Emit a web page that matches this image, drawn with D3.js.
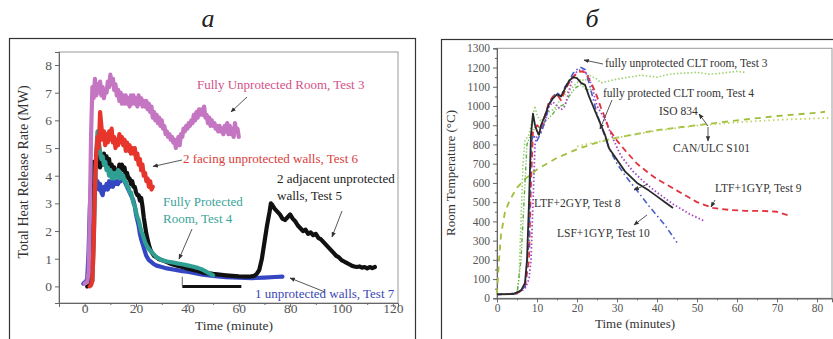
<!DOCTYPE html>
<html><head><meta charset="utf-8">
<script src="https://cdn.jsdelivr.net/npm/d3@7/dist/d3.min.js"></script>
<style>body{margin:0;background:#fff}svg{display:block}text{font-family:"Liberation Serif","Times New Roman",serif}</style>
</head><body>
<svg id="c" width="833" height="339"></svg>
<script>
// ---------- Panel a: Total heat release rate (MW) vs time (minute)
const xTicksA = [0, 20, 40, 60, 80, 100, 120];
const yTicksA = [0, 1, 2, 3, 4, 5, 6, 7, 8];
const hrrTest3 = [[0,0.1],[1,0.15],[1.5,0.5],[2,2.5],[2.5,5.5],[3,7.2],[3.5,6.8],[4,7.5],[4.5,6.9],[5,7.3],[5.5,7.0],[6,7.4],[6.5,6.9],[7,7.2],[7.5,6.8],[8,7.1],[8.5,7.0],[9,7.4],[9.5,7.2],[10,7.65],[10.5,7.3],[11,7.5],[11.5,7.1],[12,7.3],[12.5,6.9],[13,7.1],[13.5,6.7],[14,7.0],[14.5,6.6],[15,6.9],[15.5,6.6],[16,6.9],[16.5,6.6],[17,6.8],[17.5,6.5],[18,6.9],[18.5,6.6],[19,6.9],[19.5,6.6],[20,6.8],[20.5,6.5],[21,6.9],[21.5,6.6],[22,6.8],[22.5,6.5],[23,6.7],[23.5,6.5],[24,6.7],[24.5,6.4],[25,6.6],[25.5,6.3],[26,6.5],[26.5,6.1],[27,6.3],[27.5,6.0],[28,6.2],[28.5,5.9],[29,6.1],[29.5,5.8],[30,6.0],[30.5,5.7],[31,5.8],[31.5,5.5],[32,5.6],[32.5,5.4],[33,5.5],[33.5,5.3],[34,5.4],[34.5,5.2],[35,5.3],[35.5,5.0],[36,5.2],[36.5,5.4],[37,5.1],[37.5,5.5],[38,5.4],[38.5,5.7],[39,5.6],[39.5,5.8],[40,5.7],[40.5,5.9],[41,5.8],[41.5,6.0],[42,5.9],[42.5,6.2],[43,6.0],[43.5,6.3],[44,6.1],[44.5,6.4],[45,6.2],[45.5,6.4],[46,6.2],[46.5,6.5],[47,6.1],[47.5,6.2],[48,5.9],[48.5,6.1],[49,5.8],[49.5,6.0],[50,5.8],[50.5,5.9],[51,5.7],[51.5,5.8],[52,5.6],[52.5,5.8],[53,5.6],[53.5,5.7],[54,5.5],[54.5,5.8],[55,5.6],[55.5,5.9],[56,5.5],[56.5,5.8],[57,5.5],[57.5,5.7],[58,5.4],[58.5,5.9],[59,5.6],[59.5,5.7],[60,5.4]];
const hrrTest6 = [[2,0],[2.5,0.05],[3,0.2],[3.5,1.5],[4,3.5],[4.5,4.8],[5,5.4],[5.5,5.0],[6,6.3],[6.5,5.8],[7,5.3],[7.5,5.6],[8,5.1],[8.5,5.5],[9,5.2],[9.5,5.6],[10,5.3],[10.5,5.7],[11,5.2],[11.5,5.4],[12,5.0],[12.5,5.3],[13,5.1],[13.5,5.5],[14,5.2],[14.5,5.4],[15,5.1],[15.5,5.3],[16,4.9],[16.5,5.2],[17,4.9],[17.5,5.1],[18,4.8],[18.5,5.0],[19,4.8],[19.5,5.0],[20,4.6],[20.5,4.8],[21,4.4],[21.5,4.6],[22,4.2],[22.5,4.4],[23,4.0],[23.5,4.1],[24,3.8],[24.5,3.9],[25,3.6],[25.5,3.8],[26,3.5],[26.5,3.6]];
const hrrTest5 = [[1,0],[2,0.05],[2.5,0.5],[3,3.5],[3.5,4.5],[4,4.3],[4.5,4.6],[5,4.4],[5.5,4.7],[6,4.3],[6.5,4.6],[7,4.4],[7.5,4.8],[8,4.5],[8.5,4.7],[9,4.3],[9.5,4.6],[10,4.2],[10.5,4.4],[11,4.1],[11.5,4.3],[12,4.0],[12.5,4.2],[13,4.1],[13.5,4.4],[14,4.3],[14.5,4.4],[15,4.2],[15.5,4.3],[16,4.0],[16.5,4.1],[17,3.9],[17.5,3.9],[18,3.7],[18.5,3.8],[19,3.6],[19.5,3.6],[20,3.4],[20.5,3.3],[21,3.3],[21.5,3.1],[22,3.2],[22.5,2.9],[23,2.5],[23.5,2.2],[24,1.9],[24.5,1.7],[25,1.5],[25.5,1.35],[26,1.25],[27,1.1],[28,1.05],[29,0.98],[30,0.95],[32,0.88],[34,0.8],[36,0.75],[38,0.7],[40,0.65],[43,0.58],[46,0.5],[50,0.45],[55,0.4],[60,0.36],[64,0.35],[66,0.38],[67,0.45],[68,0.6],[69,1.0],[70,1.6],[71,2.2],[72,2.7],[72.5,3.0],[73,2.95],[74,2.8],[75,2.7],[76,2.6],[77,2.45],[78,2.4],[79,2.5],[80,2.6],[81,2.45],[82,2.35],[83,2.2],[84,2.1],[85,2.0],[86,2.05],[87,1.9],[88,1.95],[89,1.85],[90,1.9],[91,1.75],[92,1.7],[93,1.6],[94,1.5],[95,1.4],[96,1.3],[97,1.2],[98,1.1],[99,1.05],[100,0.95],[101,0.9],[102,0.85],[103,0.8],[104,0.75],[105,0.72],[106,0.7],[107,0.72],[108,0.68],[109,0.7],[110,0.65],[111,0.7],[112,0.66],[113,0.7]];
const hrrTest4 = [[3,0.2],[3.5,1.5],[4,3.5],[4.5,4.8],[5,5.6],[5.5,5.2],[6,4.9],[6.5,4.6],[7,4.7],[7.5,4.4],[8,4.5],[8.5,4.2],[9,4.3],[9.5,4.0],[10,4.2],[10.5,3.9],[11,4.1],[11.5,3.9],[12,4.1],[12.5,4.0],[13,4.2],[13.5,3.9],[14,4.1],[14.5,3.9],[15,4.0],[15.5,3.8],[16,3.8],[16.5,3.6],[17,3.6],[17.5,3.4],[18,3.4],[18.5,3.2],[19,3.0],[19.5,2.9],[20,2.7],[20.5,2.5],[21,2.4],[21.5,2.2],[22,2.0],[22.5,1.9],[23,1.75],[23.5,1.6],[24,1.5],[25,1.35],[26,1.25],[27,1.15],[28,1.05],[29,1.0],[30,0.95],[32,0.9],[34,0.87],[36,0.83],[38,0.8],[40,0.76],[42,0.72],[44,0.67],[46,0.6],[48,0.5],[50,0.4]];
const hrrTest7 = [[-0.5,0.1],[0,0.15],[0.5,0.15],[1,0.3],[1.5,1.2],[2,2.8],[2.5,3.8],[3,4.3],[3.5,3.9],[4,4.1],[4.5,3.6],[5,3.8],[5.5,3.5],[6,3.7],[6.5,3.4],[7,3.3],[7.5,3.6],[8,3.5],[8.5,3.7],[9,3.5],[9.5,3.8],[10,3.6],[10.5,3.8],[11,3.6],[11.5,3.9],[12,3.7],[12.5,3.8],[13,3.7],[13.5,3.9],[14,3.8],[14.5,4.0],[15,3.9],[15.5,3.8],[16,3.7],[16.5,3.6],[17,3.5],[17.5,3.4],[18,3.3],[18.5,3.2],[19,3.1],[19.5,2.9],[20,2.6],[20.5,2.4],[21,2.2],[21.5,1.9],[22,1.7],[22.5,1.55],[23,1.4],[23.5,1.25],[24,1.1],[25,0.95],[26,0.88],[27,0.8],[28,0.75],[30,0.7],[32,0.65],[35,0.6],[38,0.55],[40,0.53],[43,0.48],[46,0.42],[50,0.38],[55,0.33],[60,0.32],[65,0.3],[70,0.32],[74,0.34],[77,0.35]];
const scaleBar = [[38,0],[61,0]];

// ---------- Panel b: Room temperature (°C) vs time (minutes)
const xTicksB = [0, 10, 20, 30, 40, 50, 60, 70, 80];
const yTicksB = [0, 100, 200, 300, 400, 500, 600, 700, 800, 900, 1000, 1100, 1200, 1300];
const tempTest3 = [[0,25],[2,20],[4,22],[5,30],[5.5,100],[6,400],[6.5,700],[7,820],[8,850],[9,950],[9.5,1000],[10,950],[11,920],[12,950],[13,970],[14,980],[15,1000],[16,1050],[17,1060],[18,1080],[19,1100],[20,1120],[21,1140],[22,1130],[23,1160],[24,1150],[25,1140],[26,1120],[28,1130],[30,1140],[33,1150],[36,1160],[40,1150],[43,1165],[46,1170],[50,1175],[53,1165],[56,1170],[60,1180],[62,1175]];
const tempTest4 = [[0,20],[5,22],[6,200],[7,600],[7.5,800],[8,830],[9,870],[10,900],[11,880],[12,920],[13,940],[14,960],[15,990],[16,1000],[17,1010],[18,1050],[19,1080],[20,1100],[21,1110],[22,1090],[23,1080],[24,1100]];
const iso834 = [[0,20],[0.5,200],[1,330],[2,450],[3,500],[4,540],[5,575],[7,620],[10,670],[15,730],[20,775],[25,810],[30,835],[40,875],[50,900],[60,925],[70,948],[80,965],[82,970]];
const canUlcS101 = [[20,790],[30,835],[40,872],[50,898],[60,915],[70,928],[83,938]];
const tempTest8 = [[0,20],[4,22],[6,40],[7,80],[7.5,200],[8,500],[8.5,850],[9,960],[9.5,900],[10,870],[10.5,850],[11,900],[12,950],[13,1010],[14,1040],[15,1060],[16,1050],[17,1090],[18,1130],[19,1150],[20,1145],[21,1120],[22,1110],[23,1050],[24,1000],[25,950],[26,900],[27,850],[28,780],[30,720],[32,660],[35,600],[38,560],[40,530],[42,500],[44,470]];
const tempTest9 = [[0,20],[5,25],[7,60],[8,200],[8.5,600],[9,870],[10,900],[11,880],[12,950],[13,1020],[14,1050],[15,1060],[16,1030],[17,1080],[18,1120],[19,1150],[20,1170],[21,1180],[22,1175],[23,1140],[24,1100],[25,1050],[26,990],[27,940],[28,880],[30,820],[32,770],[35,700],[38,650],[40,620],[45,560],[50,500],[54,470],[58,460],[62,455],[66,455],[70,450],[73,430]];
const tempTest10 = [[0,20],[5,25],[7,60],[8,300],[8.5,800],[9,850],[10,820],[11,860],[12,920],[13,1000],[14,1050],[15,1070],[16,1050],[17,1100],[18,1130],[19,1170],[20,1190],[21,1200],[22,1190],[23,1120],[24,1040],[25,960],[26,900],[27,840],[28,780],[30,700],[32,640],[35,560],[38,480],[40,430],[42,380],[45,290]];
const tempOther = [[0,20],[5,25],[7,50],[8,100],[8.5,200],[9,500],[9.5,800],[10,850],[11,870],[12,920],[13,1000],[14,1020],[15,1000],[16,980],[17,1000],[18,1080],[19,1150],[20,1180],[21,1190],[22,1180],[23,1150],[24,1080],[25,1000],[27,930],[29,830],[31,740],[34,660],[37,600],[40,550],[44,490],[48,440],[52,400]];

const svg = d3.select("#c");
const gray = "#555";

svg.append("defs").append("marker").attr("id","ah").attr("viewBox","0 0 10 10").attr("refX",9).attr("refY",5)
  .attr("markerWidth",6).attr("markerHeight",6).attr("orient","auto-start-reverse")
  .append("path").attr("d","M0,1L10,5L0,9z").attr("fill","#333");

svg.append("text").attr("x",208).attr("y",27).attr("text-anchor","middle").attr("font-size",26).attr("font-style","italic").attr("fill","#222").text("а");
svg.append("text").attr("x",592).attr("y",27).attr("text-anchor","middle").attr("font-size",26).attr("font-style","italic").attr("fill","#222").text("б");

svg.append("rect").attr("x",9.5).attr("y",38.5).attr("width",406).attr("height",330).attr("fill","none").attr("stroke","#333").attr("stroke-width",1.2);
svg.append("rect").attr("x",441.5).attr("y",39.5).attr("width",400).attr("height",330).attr("fill","none").attr("stroke","#333").attr("stroke-width",1.2);

function drawAxes(x, y, xTicks, yTicks, xMinor, yMinor, fs, xdy){
  const [x0,x1] = x.range(), [y0,y1] = y.range();
  svg.append("rect").attr("x",x0).attr("y",y1).attr("width",x1-x0).attr("height",y0-y1).attr("fill","none").attr("stroke","#999").attr("stroke-width",1);
  const gx = svg.append("g").attr("transform",`translate(0,${y0})`).call(d3.axisBottom(x).tickValues(xTicks).tickSize(4).tickFormat(d3.format("d")));
  const gxm = svg.append("g").attr("transform",`translate(0,${y0})`).call(d3.axisBottom(x).tickValues(xMinor).tickSize(2).tickFormat(""));
  const gy = svg.append("g").attr("transform",`translate(${x0},0)`).call(d3.axisLeft(y).tickValues(yTicks).tickSize(4).tickFormat(d3.format("d")));
  const gym = svg.append("g").attr("transform",`translate(${x0},0)`).call(d3.axisLeft(y).tickValues(yMinor).tickSize(2).tickFormat(""));
  [gx,gxm,gy,gym].forEach(g=>{
    g.select(".domain").attr("stroke","#666");
    g.selectAll("line").attr("stroke","#666");
    g.selectAll("text").attr("fill",gray).attr("font-size",fs).attr("font-family","Liberation Serif");
  });
  gx.selectAll("text").attr("dy",xdy);
}

// ---- panel a
const xA = d3.scaleLinear().domain([-10,122]).range([59,398]);
const yA = d3.scaleLinear().domain([-0.6,8.47]).range([303,52]);
drawAxes(xA, yA, xTicksA, yTicksA, [10,30,50,70,90,110], [], 13.5, "0.25em");
svg.append("text").attr("transform","translate(28,172) rotate(-90)").attr("text-anchor","middle").attr("font-size",14).attr("fill","#333").text("Total Heat Release Rate (MW)");
svg.append("text").attr("x",234).attr("y",329.5).attr("text-anchor","middle").attr("font-size",13.5).attr("fill","#333").text("Time (minute)");

const lineA = d3.line().x(d=>xA(d[0])).y(d=>yA(d[1]));
const seriesA = [
  {d:hrrTest7, c:"#3446c2"},
  {d:hrrTest5, c:"#111111"},
  {d:hrrTest4, c:"#2f9f94"},
  {d:hrrTest6, c:"#e8352c"},
  {d:hrrTest3, c:"#c576c2"}
];
seriesA.forEach(s=>svg.append("path").attr("d",lineA(s.d)).attr("fill","none").attr("stroke",s.c).attr("stroke-width",4.2).attr("stroke-linejoin","round").attr("stroke-linecap","round"));
svg.append("path").attr("d",lineA(scaleBar)).attr("stroke","#111").attr("stroke-width",3).attr("fill","none");
svg.append("path").attr("d",lineA([[38,0],[38,0.35]])).attr("stroke","#666").attr("stroke-width",1).attr("fill","none");

function label(x,y,txt,col,fs){ svg.append("text").attr("x",x).attr("y",y).attr("font-size",fs).attr("fill",col).text(txt); }
function arrow(x1,y1,x2,y2){ svg.append("line").attr("x1",x1).attr("y1",y1).attr("x2",x2).attr("y2",y2).attr("stroke","#444").attr("stroke-width",0.9).attr("marker-end","url(#ah)"); }

label(197,89,"Fully Unprotected Room, Test 3","#d4508a",13);
arrow(247,97,231,112);
label(183,162.5,"2 facing unprotected walls, Test 6","#d9403c",13);
arrow(182,160,153,166.5);
label(277,182.5,"2 adjacent unprotected","#222",13);
label(277,200,"walls, Test 5","#222",13);
arrow(342,211,332,237);
label(163,206,"Fully Protected","#3aa39a",13);
label(163,223,"Room, Test 4","#3aa39a",13);
arrow(192,229,179,259);
label(255,297.5,"1 unprotected walls, Test 7","#3a48b4",13);
arrow(325,292,290,278);

// ---- panel b
const xB = d3.scaleLinear().domain([0,83.75]).range([497,832]);
const yB = d3.scaleLinear().domain([0,1300]).range([298.3,48.3]);
drawAxes(xB, yB, xTicksB, yTicksB, [5,15,25,35,45,55,65,75], d3.range(50,1300,100), 11.5, "0.62em");
svg.append("text").attr("transform","translate(455,173) rotate(-90)").attr("text-anchor","middle").attr("font-size",13).attr("fill","#333").text("Room Temperature (°C)");
svg.append("text").attr("x",635).attr("y",328).attr("text-anchor","middle").attr("font-size",13).attr("fill","#333").text("Time (minutes)");

const lineB = d3.line().x(d=>xB(d[0])).y(d=>yB(d[1]));
const seriesB = [
  {d:iso834, c:"#9fbf3c", w:1.8, da:"6,5"},
  {d:canUlcS101, c:"#c2d468", w:1.8, da:"1.5,3"},
  {d:tempTest3, c:"#9ed070", w:1.6, da:"1.5,2"},
  {d:tempTest4, c:"#5cae44", w:1.4, da:"4,2,1,2,1,2"},
  {d:tempOther, c:"#a646c6", w:1.8, da:"1.5,2.2"},
  {d:tempTest9, c:"#e2323e", w:1.8, da:"6,4"},
  {d:tempTest10, c:"#4a5ec8", w:1.6, da:"6,3,1.5,3"},
  {d:tempTest8, c:"#2a2a2a", w:1.8, da:null}
];
seriesB.forEach(s=>{
  const p = svg.append("path").attr("d",lineB(s.d)).attr("fill","none").attr("stroke",s.c).attr("stroke-width",s.w).attr("stroke-linejoin","round");
  if(s.da) p.attr("stroke-dasharray",s.da);
});

label(605,67,"fully unprotected CLT room, Test 3","#333",11.5);
arrow(603,64,584,60);
label(603,97,"fully protected CLT room, Test 4","#333",11.5);
arrow(612,100,600,129);
label(659,115,"ISO 834","#333",11.5);
arrow(708,126,699,114);
label(673,152,"CAN/ULC S101","#333",11.5);
arrow(708,127,708,141);
label(715,192,"LTF+1GYP, Test 9","#333",11.5);
arrow(715,200,711,207);
label(534,206.5,"LTF+2GYP, Test 8","#333",11.5);
arrow(648,184,634,190);
label(557,236.5,"LSF+1GYP, Test 10","#333",11.5);
arrow(647,215,634,225);
</script>
</body></html>
